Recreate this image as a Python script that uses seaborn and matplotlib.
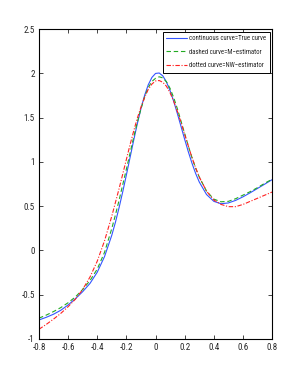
import numpy as np
import pandas as pd
import matplotlib
matplotlib.use("Agg")
import matplotlib.pyplot as plt
import seaborn as sns

x_vals = [-0.800, -0.750, -0.700, -0.650, -0.600, -0.550, -0.500, -0.450, -0.400, -0.350, -0.300,
          -0.275, -0.250, -0.225, -0.200, -0.175, -0.150, -0.125, -0.100, -0.075, -0.050, -0.025,
          0.000, 0.025, 0.050, 0.075, 0.100, 0.125, 0.150, 0.175, 0.200, 0.225, 0.250, 0.275,
          0.300, 0.350, 0.400, 0.450, 0.500, 0.550, 0.600, 0.650, 0.700, 0.750, 0.800]

true_curve = [-0.785, -0.755, -0.720, -0.675, -0.615, -0.545, -0.465, -0.372, -0.245, -0.068, 0.174,
              0.321, 0.486, 0.665, 0.855, 1.050, 1.245, 1.433, 1.604, 1.753, 1.872, 1.955,
              2.000, 2.005, 1.972, 1.903, 1.804, 1.683, 1.545, 1.400, 1.255, 1.115, 0.986, 0.871,
              0.774, 0.632, 0.555, 0.528, 0.537, 0.566, 0.606, 0.652, 0.701, 0.750, 0.800]

m_estimator = [-0.765, -0.730, -0.690, -0.645, -0.590, -0.525, -0.440, -0.340, -0.210, -0.020, 0.250,
               0.405, 0.570, 0.745, 0.920, 1.100, 1.280, 1.450, 1.600, 1.735, 1.840, 1.910,
               1.945, 1.962, 1.950, 1.905, 1.830, 1.725, 1.600, 1.460, 1.320, 1.180, 1.050, 0.930,
               0.830, 0.670, 0.580, 0.550, 0.555, 0.585, 0.625, 0.665, 0.710, 0.760, 0.805]

nw_estimator = [-0.890, -0.835, -0.775, -0.710, -0.635, -0.550, -0.440, -0.300, -0.120, 0.110, 0.390,
                0.545, 0.700, 0.865, 1.030, 1.195, 1.350, 1.495, 1.620, 1.730, 1.820, 1.880,
                1.915, 1.920, 1.900, 1.855, 1.780, 1.685, 1.570, 1.445, 1.310, 1.180, 1.050, 0.935,
                0.830, 0.670, 0.570, 0.520, 0.495, 0.495, 0.520, 0.555, 0.590, 0.625, 0.660]

labels = ["continuous curve=True curve", "dashed curve=M\u2212estimator", "dotted curve=NW\u2212estimator"]
x_ticks = [-0.8, -0.6, -0.4, -0.2, 0, 0.2, 0.4, 0.6, 0.8]
x_ticklabels = ["-0.8", "-0.6", "-0.4", "-0.2", "0", "0.2", "0.4", "0.6", "0.8"]
y_ticks = [-1, -0.5, 0, 0.5, 1, 1.5, 2, 2.5]
y_ticklabels = ["-1", "-0.5", "0", "0.5", "1", "1.5", "2", "2.5"]

sns.set_style("ticks")
plt.rcParams['font.family'] = ['Roboto Condensed', 'DejaVu Sans']

fig = plt.figure(figsize=(3.0, 3.82), dpi=100)
ax = fig.add_axes([0.13, 0.1126, 0.777, 0.811])

sns.lineplot(x=x_vals, y=true_curve, ax=ax, color="#3355ff", linewidth=0.8, label=labels[0])
sns.lineplot(x=x_vals, y=m_estimator, ax=ax, color="#22aa22", linewidth=0.8, linestyle=(0, (4, 2.5)), label=labels[1])
sns.lineplot(x=x_vals, y=nw_estimator, ax=ax, color="#ff2222", linewidth=0.8, linestyle=(0, (4, 1.5, 1, 1.5)), label=labels[2])

ax.set_xlim(-0.8, 0.8)
ax.set_ylim(-1, 2.5)
ax.set_xticks(x_ticks)
ax.set_xticklabels(x_ticklabels)
ax.set_yticks(y_ticks)
ax.set_yticklabels(y_ticklabels)
ax.tick_params(direction="in", length=3, width=0.6, labelsize=6.5, top=True, right=True, pad=3)
for s in ax.spines.values():
    s.set_visible(True)
    s.set_linewidth(0.8)
    s.set_color("black")

leg = ax.legend(loc="upper right", fontsize=4.9, frameon=True, fancybox=False,
                edgecolor="black", framealpha=1, handlelength=3.0, borderaxespad=0.35,
                labelspacing=0.95, handletextpad=0.3, borderpad=0.55)
leg.get_frame().set_linewidth(0.7)

fig.savefig("out.png", dpi=100, facecolor="white")
